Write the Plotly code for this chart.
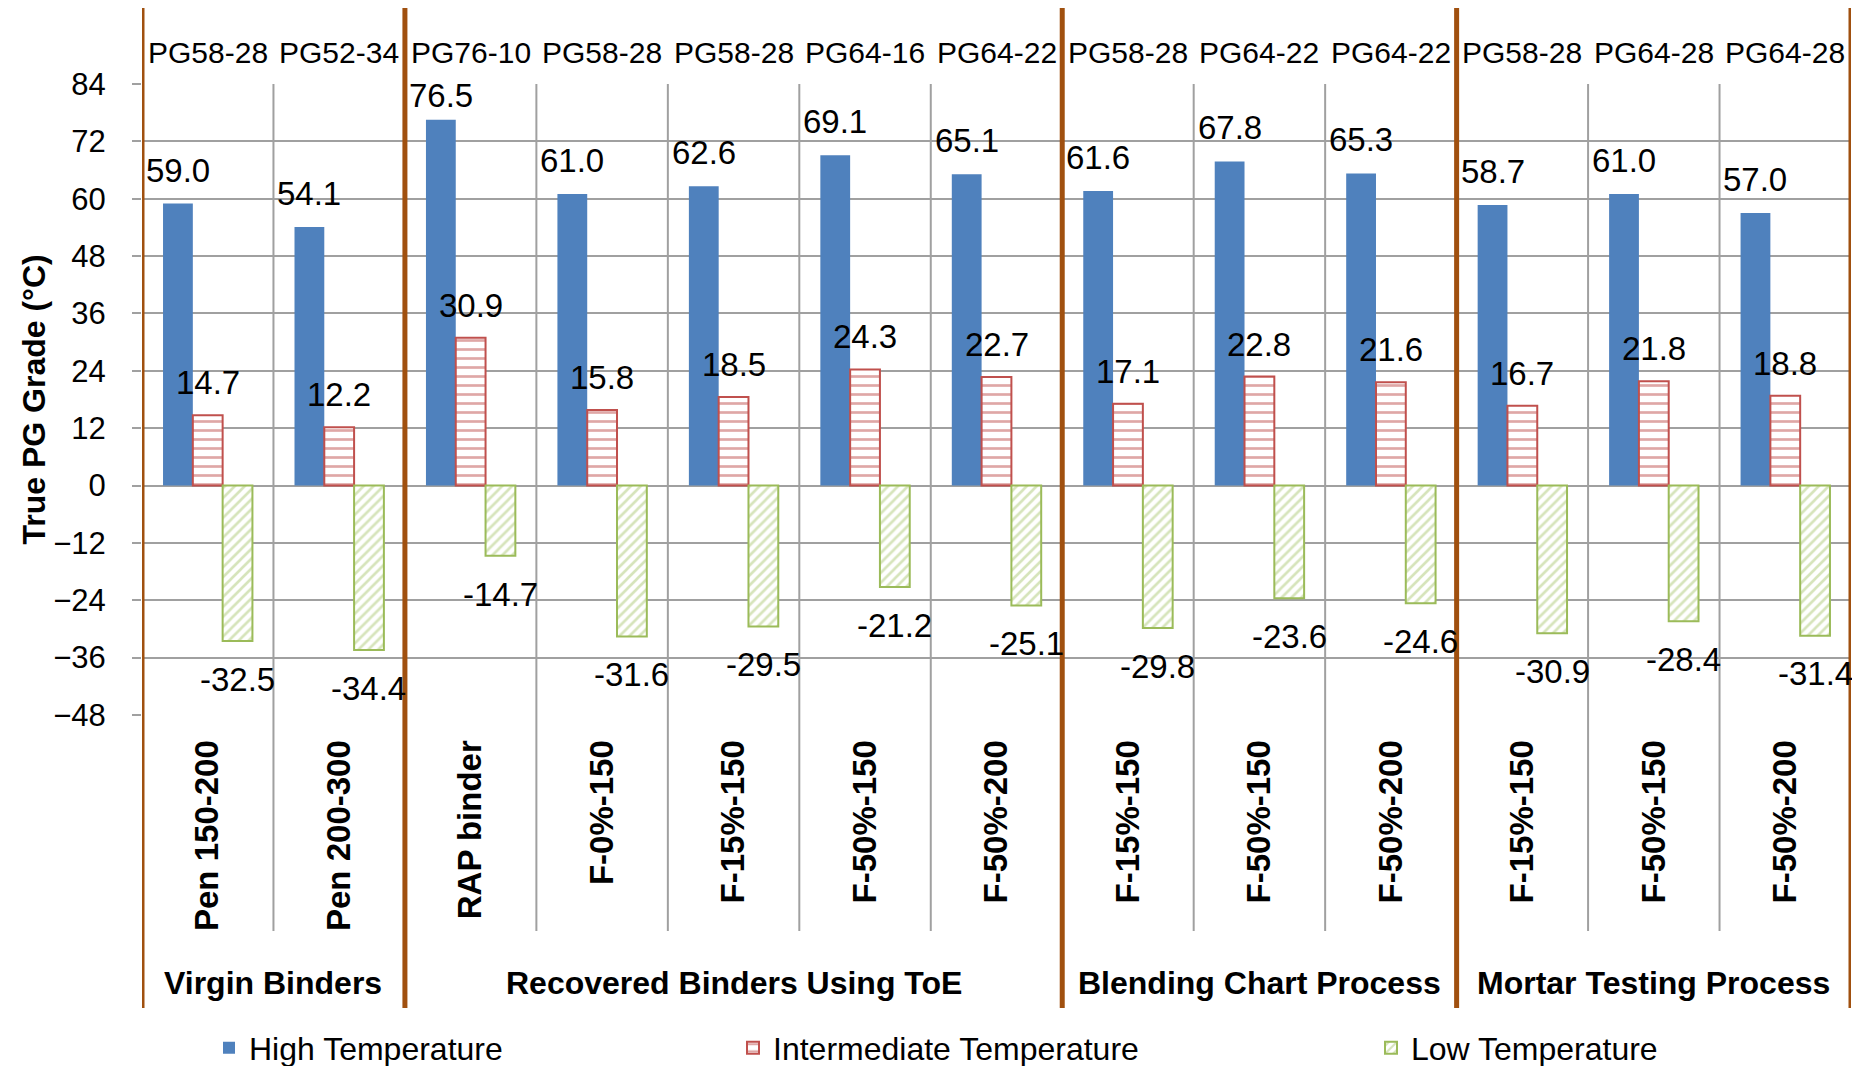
import plotly.graph_objects as go

# ---------------- data ----------------
categories = ["Pen 150-200", "Pen 200-300", "RAP binder", "F-0%-150", "F-15%-150",
              "F-50%-150", "F-50%-200", "F-15%-150", "F-50%-150", "F-50%-200",
              "F-15%-150", "F-50%-150", "F-50%-200"]
pg_grades = ["PG58-28", "PG52-34", "PG76-10", "PG58-28", "PG58-28", "PG64-16", "PG64-22",
             "PG58-28", "PG64-22", "PG64-22", "PG58-28", "PG64-28", "PG64-28"]
high_temp = [59.0, 54.1, 76.5, 61.0, 62.6, 69.1, 65.1, 61.6, 67.8, 65.3, 58.7, 61.0, 57.0]
inter_temp = [14.7, 12.2, 30.9, 15.8, 18.5, 24.3, 22.7, 17.1, 22.8, 21.6, 16.7, 21.8, 18.8]
low_temp = [-32.5, -34.4, -14.7, -31.6, -29.5, -21.2, -25.1, -29.8, -23.6, -24.6, -30.9, -28.4, -31.4]
groups = ["Virgin Binders", "Recovered Binders Using ToE", "Blending Chart Process", "Mortar Testing Process"]
group_sizes = [2, 5, 3, 3]
y_ticks = list(range(-48, 85, 12))

# ---------------- styles ----------------
FONT = "Liberation Sans, Arial, sans-serif"
BLUE = "#4F81BD"
RED = "#C0504D"
GREEN = "#9BBB59"
GRID = "#A0A0A0"
BROWN = "#A0500F"

OFF = 8                      # page body margin
W, H = 1860, 1120            # figure size (bottom part beyond the window stays blank)
PLOT_L, PLOT_R = 142, 1851   # plot area in screen pixels
PLOT_T, PLOT_B = 84, 715
L, T = PLOT_L - OFF, PLOT_T - OFF
R = W - (PLOT_R - OFF)
B = H - (PLOT_B - OFF)

def py(sy):  # screen y -> paper y
    return (PLOT_B - sy) / (PLOT_B - PLOT_T)

def px(sx):  # screen x -> paper x
    return (sx - PLOT_L) / (PLOT_R - PLOT_L)

x = list(range(len(categories)))
BARGAP = 0.32
bw = (1 - BARGAP) / 3

fig = go.Figure()
fig.add_trace(go.Bar(x=x, y=high_temp, name="High Temperature",
                     marker=dict(color=BLUE, line=dict(width=0)), legend="legend"))
fig.add_trace(go.Bar(x=x, y=inter_temp, name="Intermediate Temperature",
                     marker=dict(color="white", line=dict(color=RED, width=2),
                                 pattern=dict(shape="-", fgcolor=RED, bgcolor="white",
                                              size=9, solidity=0.3)),
                     legend="legend2"))
fig.add_trace(go.Bar(x=x, y=low_temp, name="Low Temperature",
                     marker=dict(color="white", line=dict(color=GREEN, width=2),
                                 pattern=dict(shape="/", fgcolor="#ADCA78", bgcolor="white",
                                              size=7, solidity=0.38)),
                     legend="legend3"))

LBL = dict(family=FONT, size=33, color="black")
ann = []
for i in x:
    ann.append(dict(x=i - bw, y=min(high_temp[i] + 7.0, 81.6), text=f"{high_temp[i]:.1f}",
                    xref="x", yref="y", showarrow=False, yanchor="middle", font=LBL))
    ann.append(dict(x=i, y=inter_temp[i] + 6.8, text=f"{inter_temp[i]:.1f}",
                    xref="x", yref="y", showarrow=False, yanchor="middle", font=LBL))
    ann.append(dict(x=i + bw, y=low_temp[i] - 8.0, text=f"{low_temp[i]:.1f}",
                    xref="x", yref="y", showarrow=False, yanchor="middle", font=LBL))
    ann.append(dict(x=i, y=py(52), text=pg_grades[i], xref="x", yref="paper",
                    showarrow=False, yanchor="middle",
                    font=dict(family=FONT, size=30, color="black")))

shapes = []
start = -0.5
bounds = [start]
for g, n in zip(groups, group_sizes):
    center = start + n / 2
    ann.append(dict(x=center, y=py(983), text=f"<b>{g}</b>", xref="x", yref="paper",
                    showarrow=False, yanchor="middle",
                    font=dict(family=FONT, size=32, color="black")))
    start += n
    bounds.append(start)

for i in range(len(categories) - 1):
    b = i + 0.5
    if b not in bounds:
        shapes.append(dict(type="line", xref="x", yref="paper", x0=b, x1=b,
                           y0=py(931), y1=1, line=dict(color=GRID, width=2), layer="below"))
for b in bounds:
    shapes.append(dict(type="line", xref="x", yref="paper", x0=b, x1=b,
                       y0=py(1008), y1=py(8), line=dict(color=BROWN, width=5), layer="above"))

ann.append(dict(x=px(33), y=0.5, xref="paper", yref="paper", text="<b>True PG Grade (°C)</b>",
                textangle=-90, showarrow=False, xanchor="center", yanchor="middle",
                font=dict(family=FONT, size=32, color="black")))

legend_common = dict(orientation="h", yanchor="middle", y=py(1048), xanchor="left",
                     font=dict(family=FONT, size=32, color="black"),
                     bgcolor="rgba(0,0,0,0)", borderwidth=0)

fig.update_layout(
    width=W, height=H,
    margin=dict(l=L, r=R, t=T, b=B, pad=0),
    paper_bgcolor="white", plot_bgcolor="white",
    barmode="group", bargap=BARGAP, bargroupgap=0,
    showlegend=True,
    legend=dict(x=px(209), **legend_common),
    legend2=dict(x=px(733), **legend_common),
    legend3=dict(x=px(1371), **legend_common),
    annotations=ann, shapes=shapes,
    hovermode=False,
    xaxis=dict(range=[-0.5, len(categories) - 0.5], tickmode="array", tickvals=x,
               ticktext=[f"<b>{c}</b>" for c in categories], tickangle=-90,
               tickfont=dict(family=FONT, size=33, color="black"),
               showgrid=False, zeroline=False, showline=False,
               ticks="outside", ticklen=1, tickcolor="rgba(0,0,0,0)", ticklabelstandoff=10),
    yaxis=dict(range=[-48, 84], tickmode="array", tickvals=y_ticks,
               tickfont=dict(family=FONT, size=31, color="black"),
               showgrid=True, gridcolor=GRID, gridwidth=2, zeroline=False, showline=False,
               ticks="outside", ticklen=9, tickwidth=2, tickcolor=GRID, ticklabelstandoff=20),
)

fig.write_html("out.html")
